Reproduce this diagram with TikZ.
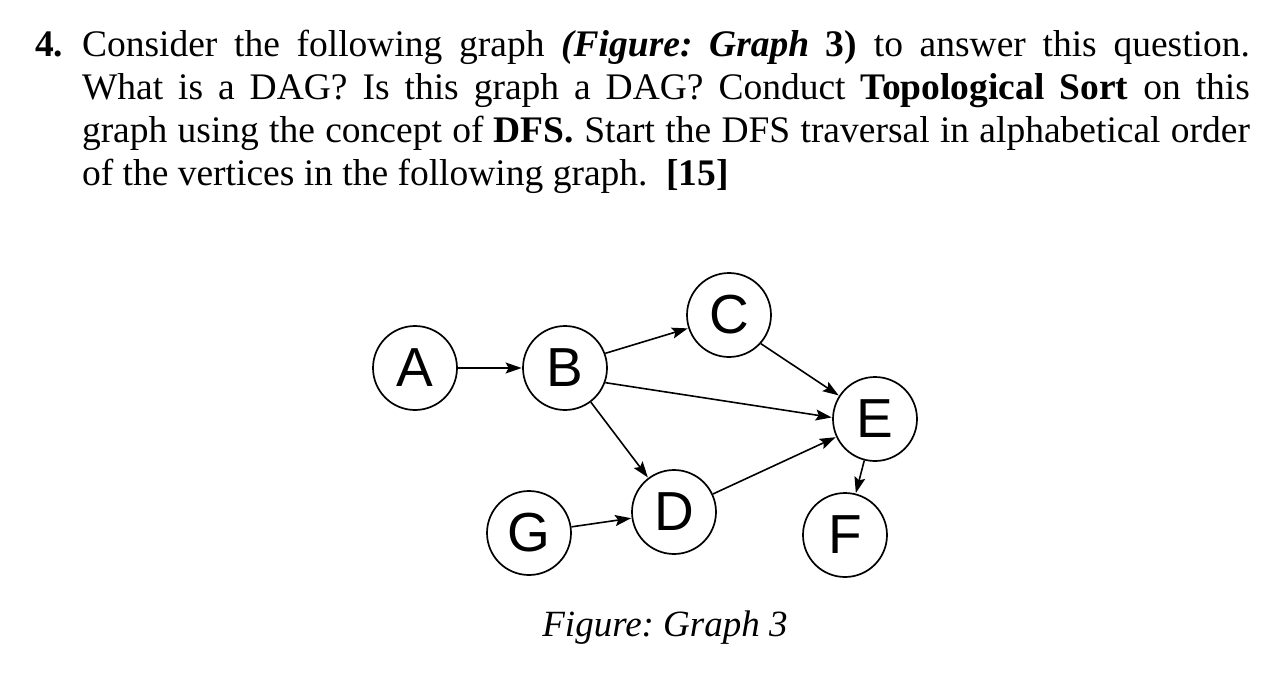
\documentclass[tikz,border=0pt]{standalone}
\usepackage{fontspec}
\setmainfont{Liberation Serif}
\newfontfamily\nodefont{Liberation Sans}
\usetikzlibrary{arrows.meta}
\frenchspacing
\newcommand{\qline}[1]{\hbox to 1168pt{\spaceskip=0.25em plus 0.6em minus 0.16em\relax #1}}
\tikzset{
  vertex/.style={draw, circle, line width=1.7pt, minimum size=84pt, inner sep=0pt, font=\nodefont\fontsize{55}{55}\selectfont},
  edge/.style={line width=1.6pt, -{Stealth[length=16pt,width=11pt,inset=3pt]}, shorten >=0.5pt},
  qtext/.style={anchor=base west, inner sep=0pt, outer sep=0pt, font=\fontsize{37.5}{43}\selectfont},
  caption/.style={anchor=base, inner sep=0pt, font=\itshape\fontsize{37}{43}\selectfont}
}
\begin{document}
\begin{tikzpicture}[x=1pt,y=-1pt]
\fill[white] (0,0) rectangle (1275,695);
\useasboundingbox (0,0) rectangle (1275,695);
% question text
\node[qtext] (num) at (35,56.7) {\textbf{4.}};
\node[qtext] (l1) at (82,56.7) {\qline{Consider the following graph \textbf{\textit{(Figure: Graph}} \textbf{3)} to answer this question.}};
\node[qtext] (l2) at (82,100) {\qline{What is a DAG? Is this graph a DAG? Conduct \textbf{Topological Sort} on this}};
\node[qtext] (l3) at (82,143) {\qline{graph using the concept of \textbf{DFS.} Start the DFS traversal in alphabetical order}};
\node[qtext] (l4) at (82,186) {of the vertices in the following graph.\ \ \textbf{[15]}};
% graph
\node[vertex] (A) at (415,368) {A};
\node[vertex] (B) at (565,368) {B};
\node[vertex] (C) at (729,315) {C};
\node[vertex] (E) at (875,419) {E};
\node[vertex] (D) at (674,512) {D};
\node[vertex] (G) at (529,533) {G};
\node[vertex] (F) at (845,535) {F};
\draw[edge] (A) -- (B);
\draw[edge] (B.20) -- (C.198);
\draw[edge] (B.-20) -- (E.178);
\draw[edge] (B) -- (D);
\draw[edge] (C.-42) -- (E.147);
\draw[edge] (D) -- (E);
\draw[edge] (E) -- (F);
\draw[edge] (G) -- (D);
% caption
\node[caption] (cap) at (665,636.7) {Figure: Graph 3};
\end{tikzpicture}
\end{document}
